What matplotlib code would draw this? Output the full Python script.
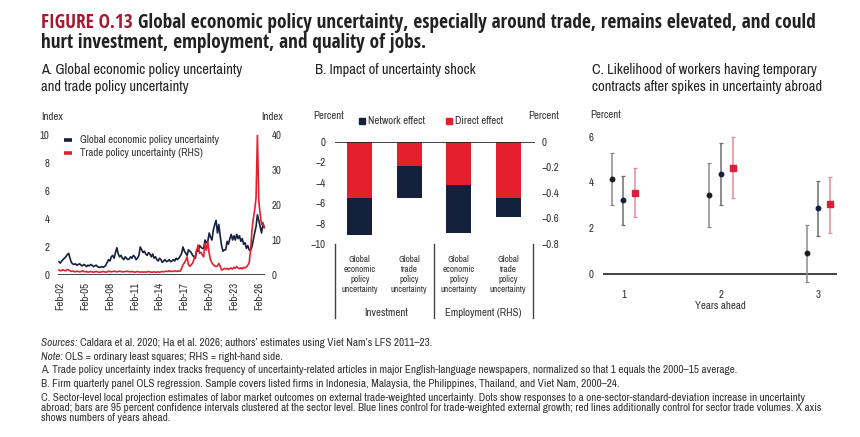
import matplotlib
matplotlib.use('Agg')
import matplotlib.pyplot as plt
import matplotlib.transforms as mtransforms
from matplotlib import font_manager as fm
from matplotlib.font_manager import FontProperties
from matplotlib.lines import Line2D
import numpy as np
import pandas as pd

plt.rcParams['font.family'] = ['Liberation Sans', 'DejaVu Sans']
plt.rcParams['axes.unicode_minus'] = True

NAVY = '#14213d'
RED = '#e4202f'
TITLE_RED = '#a6192e'
TXT = '#333333'

# ---------------- Data ----------------
# Panel A: bimonthly index values
gepu = [0.95, 0.85, 1.0, 1.1,
        1.2, 1.3, 1.45, 1.55, 1.2,
        0.9, 0.8, 0.75,
        0.8, 0.7, 0.75, 0.8, 0.7, 0.65, 0.75, 0.7, 0.6, 0.7, 0.65, 0.75, 0.7, 0.6, 0.65, 0.7, 0.6, 0.55,
        0.55, 0.6, 0.55, 0.6, 0.7,
        0.9, 1.1, 1.0, 1.3, 1.4, 1.2, 1.6, 1.95,
        1.5, 1.3, 1.4, 1.2, 1.1, 1.3, 1.2, 1.1, 1.15, 1.3,
        1.2, 1.4, 1.3, 1.1, 1.2,
        1.4, 2.0, 1.8, 1.6, 1.7, 1.5, 1.4, 1.6, 1.5, 1.3, 1.5, 1.2,
        1.3, 1.1, 1.0, 1.2, 1.1, 0.9, 1.0, 1.1, 0.95, 1.0, 1.1,
        0.95, 1.0, 1.1, 1.0, 1.2,
        1.1, 1.2, 1.35, 1.55, 2.0, 1.7, 1.55, 1.4, 1.8, 1.7, 1.6, 1.4, 1.3, 1.2, 1.8, 1.7, 2.1, 2.0,
        1.9, 1.9, 2.5, 2.3, 2.4, 3.0, 2.7, 2.5, 3.2, 3.6, 3.9, 3.0, 3.6, 2.8, 2.1, 1.7, 1.8,
        1.8, 2.4, 2.2, 2.6, 2.9, 2.5, 2.8, 2.5, 2.9, 2.6, 2.8, 2.4, 2.6, 2.2, 2.3, 1.9, 2.1, 1.8,
        1.75, 2.0, 2.5, 3.0, 3.45, 4.3, 3.9, 3.45, 3.0, 3.6, 3.4]
tpu = [1.4, 1.2, 1.3, 1.5, 1.3, 1.2, 1.6, 1.4, 1.2, 1.0, 1.1,
       1.0, 0.9, 1.1, 1.0, 0.9, 1.0, 1.2, 1.0, 0.9, 1.0,
       0.8, 0.9, 1.0, 0.9, 0.8, 0.9, 1.0, 0.9, 0.8, 0.8,
       0.9, 1.0, 0.9, 0.8, 0.9, 1.1, 1.0, 0.9, 1.0, 1.1,
       1.0, 0.9, 1.0, 1.1, 1.0, 0.9, 0.9, 1.0, 1.1, 1.0,
       1.0, 0.9, 1.0, 0.9, 0.8, 0.9, 1.0, 0.9, 0.8, 0.9,
       0.8, 0.9, 0.8, 0.9, 1.0, 0.9, 0.8, 0.8, 0.9, 0.8,
       0.8, 0.9, 0.8, 0.9, 1.0, 0.9, 1.0, 1.1, 1.0, 1.2,
       1.0, 1.1, 1.0, 1.2, 1.1, 1.0, 1.2, 1.1,
       1.9, 2.9, 3.5, 4.2, 5.2, 2.9, 2.5, 2.9, 3.4, 4.5, 5.7, 7.1, 8.6, 6.2, 6.5, 5.8,
       5.2, 9.0, 7.1, 9.5, 6.2, 4.3, 3.5, 2.9, 2.6, 2.4, 2.6, 3.3, 2.5, 1.4, 1.6, 1.9,
       1.7, 1.9, 1.6, 1.8, 2.0, 1.7, 2.2, 1.9, 2.4, 2.0, 1.8, 2.1, 1.7, 2.2, 2.0, 2.3,
       2.8, 3.5, 7.0, 12.5, 16.0, 18.5, 22.0, 40.0, 21.0, 17.5, 14.5, 15.0, 13.5]
dates_a = pd.date_range('2001-12-01', periods=len(gepu), freq='2MS')
tick_years_a = list(range(2002, 2027, 3))
tick_labels_a = ['Feb-%02d' % (y % 100) for y in tick_years_a]
legend_a = ['Global economic policy uncertainty', 'Trade policy uncertainty (RHS)']

# Panel B
cats_b = ['Global\neconomic\npolicy\nuncertainty', 'Global\ntrade\npolicy\nuncertainty',
          'Global\neconomic\npolicy\nuncertainty', 'Global\ntrade\npolicy\nuncertainty']
groups_b = ['Investment', 'Employment (RHS)']
legend_b = ['Network effect', 'Direct effect']
invest_direct = [-5.5, -2.35]
invest_network = [-3.6, -3.2]
employ_direct = [-0.34, -0.44]
employ_network = [-0.375, -0.15]
yticks_bl = [0, -2, -4, -6, -8, -10]
yticks_br = [0, -0.2, -0.4, -0.6, -0.8]

# Panel C
years_c = [1, 2, 3]
c_s1 = [4.15, 3.45, 0.90]
c_s1_lo = [3.01, 2.07, -0.35]
c_s1_hi = [5.30, 4.85, 2.14]
c_s2 = [3.23, 4.37, 2.88]
c_s2_lo = [2.14, 3.01, 1.67]
c_s2_hi = [4.28, 5.71, 4.06]
c_s3 = [3.55, 4.63, 3.04]
c_s3_lo = [2.47, 3.30, 1.80]
c_s3_hi = [4.61, 5.97, 4.25]

title_1 = 'Global economic policy uncertainty, especially around trade, remains elevated, and could'
title_2 = 'hurt investment, employment, and quality of jobs.'
notes = [
    "Caldara et al. 2020; Ha et al. 2026; authors\u2019 estimates using Viet Nam\u2019s LFS 2011\u201323.",
    'OLS = ordinary least squares; RHS = right-hand side.',
    'A. Trade policy uncertainty index tracks frequency of uncertainty-related articles in major '
    'English-language newspapers, normalized so that 1 equals the 2000\u201315 average.',
    'B. Firm quarterly panel OLS regression. Sample covers listed firms in Indonesia, Malaysia, '
    'the Philippines, Thailand, and Viet Nam, 2000\u201324.',
    'C. Sector-level local projection estimates of labor market outcomes on external trade-weighted '
    'uncertainty. Dots show responses to a one-sector-standard-deviation increase in uncertainty',
    'abroad; bars are 95 percent confidence intervals clustered at the sector level. Blue lines '
    'control for trade-weighted external growth; red lines additionally control for sector trade volumes. X axis',
    'shows numbers of years ahead.',
]

# ---------------- Figure ----------------
W, H = 860, 437
fig = plt.figure(figsize=(W / 100, H / 100), dpi=100)
renderer = fig.canvas.get_renderer()

# ---- pick fonts: a narrow sans (about Arial Narrow proportions) if installed ----
SAMPLE = 'Global economic policy uncertainty'


def _width(fp):
    t = fig.text(0, 0, SAMPLE, fontproperties=fp)
    t.set_fontsize(10)
    w = t.get_window_extent(renderer).width
    t.remove()
    return w


_wmap = {'thin': 100, 'extralight': 200, 'light': 300, 'normal': 400, 'regular': 400, 'book': 400,
         'medium': 500, 'semibold': 600, 'demibold': 600, 'bold': 700, 'extrabold': 800,
         'heavy': 900, 'black': 900}


def _w(v):
    try:
        return int(v)
    except (TypeError, ValueError):
        return _wmap.get(str(v).lower(), 400)


def _lib(weight, style):
    return FontProperties(fname=fm.findfont(FontProperties(family='Liberation Sans', weight=weight,
                                                           style=style)))


FONTS = {'reg': _lib('normal', 'normal'), 'bold': _lib('bold', 'normal'),
         'ital': _lib('normal', 'italic')}
_ref = {k: _width(v) for k, v in FONTS.items()}
_bestd = {'reg': 0.09, 'bold': 0.09, 'ital': 0.09}
for f in fm.fontManager.ttflist:
    nm = f.name
    if any(k in nm for k in ('Mono', 'Serif', 'CJK', 'Math', 'Display')):
        continue
    st = str(f.stretch)
    if not ('Narrow' in nm or 'Condensed' in nm or 'condensed' in st):
        continue
    wt = _w(f.weight)
    if f.style == 'normal' and 350 <= wt <= 500:
        kind = 'reg'
    elif f.style == 'normal' and 650 <= wt <= 800:
        kind = 'bold'
    elif f.style != 'normal' and 350 <= wt <= 500:
        kind = 'ital'
    else:
        continue
    try:
        fp = FontProperties(fname=f.fname)
        r = _width(fp) / _ref[kind]
    except Exception:
        continue
    d = abs(r - 0.82)
    if d < _bestd[kind]:
        _bestd[kind] = d
        FONTS[kind] = fp


def FP(kind, size):
    fp = FONTS[kind].copy()
    fp.set_size(size)
    return fp


def fx(x):
    return x / W


def fy(y):
    return 1 - y / H


def rect(l, t, r, b):
    return [l / W, 1 - b / H, (r - l) / W, (b - t) / H]


def fit(txt, target, kind='reg', base=10.0):
    t = fig.text(0, 0, txt, fontproperties=FP(kind, base))
    w = t.get_window_extent(renderer).width
    t.remove()
    return base * target / w


def ftext(x, y, txt, kind, size, **kw):
    return fig.text(fx(x), fy(y), txt, fontproperties=FP(kind, size), **kw)


def two_part(x, y, parts, size, **kw):
    cur = x
    for txt, kind, col in parts:
        t = fig.text(fx(cur), fy(y), txt, fontproperties=FP(kind, size), color=col, **kw)
        cur = t.get_window_extent(renderer).x1
    return cur


def style_ticks(ax, size, which='both'):
    labs = []
    if which in ('both', 'x'):
        labs += ax.get_xticklabels()
    if which in ('both', 'y'):
        labs += ax.get_yticklabels()
    for lb in labs:
        lb.set_fontproperties(FP('reg', size))


# font sizes fitted to the widths of the reference texts
fs_title = fit('FIGURE O.13 ' + title_1, 774, 'bold')
fs_ptitle = fit('A. Global economic policy uncertainty', 201)
fs_note = fit(notes[2], 702)
fs_tick = min(fit(legend_a[0], 140), 8.5)
fs_cat = fit('uncertainty', 37)
fs_grp = fit(groups_b[1], 77)

# Title
two_part(41, 23, [('FIGURE O.13 ', 'bold', TITLE_RED), (title_1, 'bold', '#222222')], fs_title,
         va='center')
ftext(41, 43, title_2, 'bold', fs_title, va='center', color='#222222')

# Panel titles
pt_kw = dict(color='#222222', va='center')
ftext(41, 70, 'A. Global economic policy uncertainty', 'reg', fs_ptitle, **pt_kw)
ftext(41, 87, 'and trade policy uncertainty', 'reg', fs_ptitle, **pt_kw)
ftext(315, 70, 'B. Impact of uncertainty shock', 'reg', fs_ptitle, **pt_kw)
ftext(592, 70, 'C. Likelihood of workers having temporary', 'reg', fs_ptitle, **pt_kw)
ftext(592, 87, 'contracts after spikes in uncertainty abroad', 'reg', fs_ptitle, **pt_kw)

# ---------------- Panel A ----------------
axA = fig.add_axes(rect(58, 135, 265, 275))
axA2 = axA.twinx()
axA.plot(dates_a, gepu, color=NAVY, lw=1.2)
axA2.plot(dates_a, tpu, color=RED, lw=1.2)
axA.set_ylim(0, 10)
axA2.set_ylim(0, 40)
axA.set_xlim(pd.Timestamp('2001-10-20'), pd.Timestamp('2026-11-01'))
axA.set_yticks([0, 2, 4, 6, 8, 10])
axA2.set_yticks([0, 10, 20, 30, 40])
axA.set_xticks([pd.Timestamp('%d-02-01' % y) for y in tick_years_a])
axA.set_xticklabels(tick_labels_a, rotation=90)
for a in (axA, axA2):
    for s in a.spines.values():
        s.set_visible(False)
    a.tick_params(length=0, colors=TXT)
axA.tick_params(axis='y', pad=6)
axA2.tick_params(axis='y', pad=5)
axA.tick_params(axis='x', pad=5)
style_ticks(axA, fs_tick)
style_ticks(axA2, fs_tick, 'y')
axA2.axhline(0, color='#222222', lw=1.2, zorder=5)
ftext(41, 117, 'Index', 'reg', fs_tick, color=TXT, va='center')
ftext(261, 117, 'Index', 'reg', fs_tick, color=TXT, va='center')
for i, (lab, col) in enumerate(zip(legend_a, [NAVY, RED])):
    yy = 140 + 13.5 * i
    fig.add_artist(Line2D([fx(64), fx(72)], [fy(yy), fy(yy)], transform=fig.transFigure,
                          color=col, lw=2.6, solid_capstyle='butt'))
    ftext(80, yy, lab, 'reg', fs_tick, color=TXT, va='center')

# ---------------- Panel B ----------------
axB = fig.add_axes(rect(335, 141.7, 535, 244))
axB2 = axB.twinx()
xb = np.arange(4)
bw = 0.5
axB.bar(xb[:2], invest_direct, width=bw, color=RED, zorder=2)
axB.bar(xb[:2], invest_network, bottom=invest_direct, width=bw, color=NAVY, zorder=2)
axB2.bar(xb[2:], employ_direct, width=bw, color=RED, zorder=2)
axB2.bar(xb[2:], employ_network, bottom=employ_direct, width=bw, color=NAVY, zorder=2)
axB.set_xlim(-0.5, 3.54)
axB.set_ylim(-10, 0)
axB2.set_ylim(-0.8, 0)
axB.set_yticks(yticks_bl)
axB.set_yticklabels(['0' if v == 0 else '\u2212%d' % abs(v) for v in yticks_bl])
axB2.set_yticks(yticks_br)
axB2.set_yticklabels(['0' if v == 0 else '\u2212%.1f' % abs(v) for v in yticks_br])
axB.set_xticks(xb)
axB.set_xticklabels(cats_b, linespacing=1.15, color=TXT)
for a in (axB, axB2):
    for s in a.spines.values():
        s.set_visible(False)
    a.tick_params(length=0, colors=TXT)
axB.tick_params(axis='x', pad=8)
axB.tick_params(axis='y', pad=7)
axB2.tick_params(axis='y', pad=5)
style_ticks(axB, fs_tick, 'y')
style_ticks(axB, fs_cat, 'x')
style_ticks(axB2, fs_tick, 'y')
axB2.axhline(0, color='#222222', lw=1.2, zorder=5)
blend = mtransforms.blended_transform_factory(axB.transData, axB.transAxes)
for xs in (-0.5, 1.5, 3.5):
    axB.add_line(Line2D([xs, xs], [0, -0.72], transform=blend, color='#444444', lw=1.0,
                        clip_on=False))
ftext(386, 313, groups_b[0], 'reg', fs_grp, color=TXT, ha='center', va='center')
ftext(483, 313, groups_b[1], 'reg', fs_grp, color=TXT, ha='center', va='center')
ftext(313, 116, 'Percent', 'reg', fs_tick, color=TXT, va='center')
ftext(528, 116, 'Percent', 'reg', fs_tick, color=TXT, va='center')
for lab, col, xx in zip(legend_b, (NAVY, RED), (362, 449)):
    fig.add_artist(Line2D([fx(xx)], [fy(121)], transform=fig.transFigure, marker='s',
                          markersize=4.5, color=col, lw=0))
    ftext(xx + 6, 121, lab, 'reg', fs_tick, color=TXT, va='center')

# ---------------- Panel C ----------------
axC = fig.add_axes(rect(603, 132, 837, 284.3))
off = 0.12
specs = [
    (c_s1, c_s1_lo, c_s1_hi, -off, '#1e1e1e', '#8a8a8a', 'o', 3.2),
    (c_s2, c_s2_lo, c_s2_hi, 0.0, NAVY, '#6e6e6e', 'o', 3.2),
    (c_s3, c_s3_lo, c_s3_hi, off, '#d8203a', '#e48a98', 's', 3.8),
]
for vals, lo, hi, dx, pc, ec, mk, ms in specs:
    xs = np.array(years_c) + dx
    v = np.array(vals)
    yerr = [v - np.array(lo), np.array(hi) - v]
    axC.errorbar(xs, v, yerr=yerr, fmt=mk, color=pc, ecolor=ec, elinewidth=1.1, capsize=1.6,
                 capthick=0.9, markersize=ms, zorder=3)
axC.set_xlim(0.79, 3.19)
axC.set_ylim(-0.45, 6.2)
axC.set_yticks([0, 2, 4, 6])
axC.set_xticks(years_c)
for s in axC.spines.values():
    s.set_visible(False)
axC.tick_params(length=0, colors=TXT)
axC.tick_params(axis='y', pad=7)
axC.tick_params(axis='x', pad=4)
style_ticks(axC, fs_tick)
axC.axhline(0, color='#222222', lw=1.2, zorder=2)
ftext(720, 306, 'Years ahead', 'reg', fs_tick, color=TXT, ha='center', va='center')
ftext(590, 115, 'Percent', 'reg', fs_tick, color=TXT, va='center')

# ---------------- Notes ----------------
NC = '#333333'
two_part(41, 343, [('Sources: ', 'ital', NC), (notes[0], 'reg', NC)], fs_note, va='center')
two_part(41, 357, [('Note: ', 'ital', NC), (notes[1], 'reg', NC)], fs_note, va='center')
for txt, yy in zip(notes[2:], [370, 384, 398, 408, 418]):
    ftext(41, yy, txt, 'reg', fs_note, color=NC, va='center')

fig.savefig('out.png', dpi=100)
